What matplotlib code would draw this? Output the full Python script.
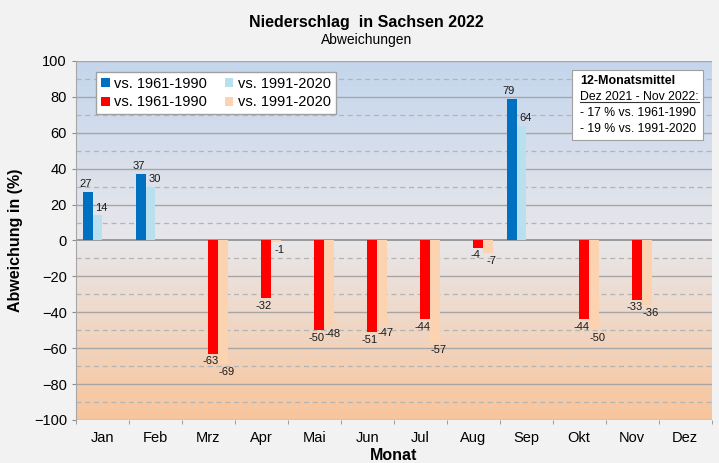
import numpy as np
import matplotlib.pyplot as plt
from matplotlib.colors import LinearSegmentedColormap
from matplotlib.patches import Rectangle

plt.rcParams['font.family'] = ['Liberation Sans', 'DejaVu Sans']

months = ["Jan", "Feb", "Mrz", "Apr", "Mai", "Jun", "Jul", "Aug", "Sep", "Okt", "Nov", "Dez"]
nan = np.nan
# positive deviations (blue) and negative deviations (red), both reference periods
pos_6190 = [27, 37, nan, nan, nan, nan, nan, nan, 79, nan, nan, nan]
pos_9120 = [14, 30, nan, nan, nan, nan, nan, nan, 64, nan, nan, nan]
neg_6190 = [nan, nan, -63, -32, -50, -51, -44, -4, nan, -44, -33, nan]
neg_9120 = [nan, nan, -69, -1, -48, -47, -57, -7, nan, -50, -36, nan]

series = [
    (pos_6190, "#0070c0", "vs. 1961-1990"),
    (pos_9120, "#b9e0ee", "vs. 1991-2020"),
    (neg_6190, "#ff0000", "vs. 1961-1990"),
    (neg_9120, "#fcd3b0", "vs. 1991-2020"),
]

fig = plt.figure(figsize=(7.19, 4.63), dpi=100, facecolor="#f2f2f2")
ax = fig.add_axes([0.1057, 0.0929, 0.884, 0.7754])

# background gradient: blue on top, grey around zero, peach at the bottom
cmap = LinearSegmentedColormap.from_list("bg", [(0, "#f8c59c"), (0.5, "#e8e7ea"), (1, "#c4d6ed")])
grad = np.linspace(0, 1, 256).reshape(-1, 1)
ax.imshow(grad, extent=[-0.5, 11.5, -100, 100], origin="lower", aspect="auto", cmap=cmap, zorder=0)

for y in range(-100, 101, 20):
    ax.axhline(y, color="#8c8c8c" if y == 0 else "#a6a6a6", lw=1.2 if y == 0 else 1.0, zorder=1)
for y in range(-90, 100, 20):
    ax.axhline(y, color="#b4b4b4", lw=0.9, ls=(0, (4, 3)), zorder=1)

x = np.arange(len(months))
w = 0.183
handles = []
for i, (vals, col, lab) in enumerate(series):
    off = (i - 1.5) * w
    b = ax.bar(x + off, vals, width=w, color=col, label=lab, zorder=3)
    handles.append(b)
    for xi, v in zip(x, vals):
        if np.isnan(v):
            continue
        # light bars: label nudged right so pairs don't collide
        dx = 0.07 if i % 2 else -0.05
        if v > 0:
            ax.text(xi + off + dx, v + 1.5, f"{v:g}", ha="center", va="bottom", fontsize=8, color="#1a1a1a", zorder=4)
        else:
            ax.text(xi + off + dx, v - 1.5, f"{v:g}", ha="center", va="top", fontsize=8, color="#1a1a1a", zorder=4)

ax.set_xlim(-0.5, 11.5)
ax.set_ylim(-100, 100)
ax.set_yticks(range(-100, 101, 20))
ax.set_xticks(x)
ax.set_xticklabels(months, fontsize=10.5)
ax.set_xticks(np.arange(-0.5, 12, 1), minor=True)
ax.tick_params(axis="x", which="major", length=0, pad=8)
ax.tick_params(axis="x", which="minor", length=3, color="#8c8c8c")
ax.tick_params(axis="y", labelsize=10.5, length=3, color="#8c8c8c")
for s in ax.spines.values():
    s.set_visible(False)
ax.spines["left"].set_visible(True)
ax.spines["left"].set_color("#a6a6a6")

ax.set_ylabel("Abweichung in (%)", fontsize=11.5, fontweight="bold", labelpad=8)
ax.set_xlabel("Monat", fontsize=11.5, fontweight="bold", labelpad=2)

# legend: blue/red in first column, light colours in second
leg = ax.legend([handles[0], handles[2], handles[1], handles[3]],
                [series[0][2], series[2][2], series[1][2], series[3][2]],
                ncol=2, loc="upper left", bbox_to_anchor=(0.02, 0.99), fontsize=10.5,
                frameon=True, fancybox=False, edgecolor="#a0a0a0", framealpha=1,
                handlelength=0.6, handleheight=0.6, handletextpad=0.3, columnspacing=1.2,
                borderpad=0.35, labelspacing=0.3)
leg.set_zorder(5)

# info box
ax.add_patch(Rectangle((0.781, 0.78), 0.205, 0.195, transform=ax.transAxes,
                       facecolor="white", edgecolor="#a0a0a0", lw=0.8, zorder=5))
ax.text(0.793, 0.944, "12-Monatsmittel", transform=ax.transAxes, fontsize=9,
        fontweight="bold", va="center", zorder=6)
t = ax.text(0.793, 0.900, "Dez 2021 - Nov 2022:", transform=ax.transAxes, fontsize=8.8,
            va="center", zorder=6)
ax.text(0.793, 0.855, "- 17 % vs. 1961-1990", transform=ax.transAxes, fontsize=8.8, va="center", zorder=6)
ax.text(0.793, 0.811, "- 19 % vs. 1991-2020", transform=ax.transAxes, fontsize=8.8, va="center", zorder=6)

fig.canvas.draw()
bb = t.get_window_extent().transformed(ax.transAxes.inverted())
ax.plot([bb.x0, bb.x1], [bb.y0 + 0.003, bb.y0 + 0.003], transform=ax.transAxes,
        color="#333333", lw=0.8, zorder=6)

fig.text(0.51, 0.952, "Niederschlag  in Sachsen 2022", ha="center", va="center",
         fontsize=11.5, fontweight="bold")
fig.text(0.51, 0.914, "Abweichungen", ha="center", va="center", fontsize=10)

fig.savefig("out.png", dpi=100, facecolor=fig.get_facecolor())
